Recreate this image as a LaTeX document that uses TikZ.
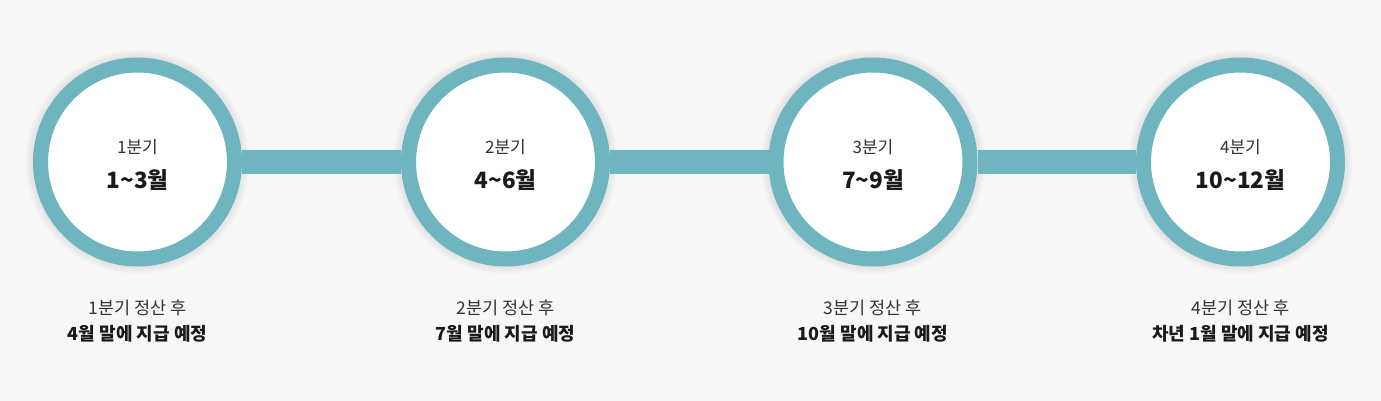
\documentclass[tikz,border=0pt]{standalone}
\usepackage{fontspec}
\setmainfont{Noto Sans CJK KR}
\usetikzlibrary{backgrounds}
\definecolor{qteal}{RGB}{110,181,192}
\definecolor{pagegray}{RGB}{247,247,247}
\definecolor{textgray}{RGB}{51,51,51}
\definecolor{textdark}{RGB}{26,26,26}

\begin{document}
\begin{tikzpicture}[
  x=1pt, y=-1pt,
  quarter/.style={circle, draw=qteal, line width=15pt, fill=white, minimum size=194pt, inner sep=0pt},
  link/.style={qteal, line width=24pt},
  qname/.style={font=\fontsize{17}{20}\selectfont, text=textgray},
  qrange/.style={font=\fontsize{22.5}{26}\selectfont\bfseries, text=textdark},
  note/.style={font=\fontsize{17.5}{20}\selectfont, text=textgray},
  notebold/.style={font=\fontsize{18}{21}\selectfont\bfseries, text=textdark}
]
  \useasboundingbox (0,0) rectangle (1381,401);

  % quarters: circle, name, months and payment note
  \foreach \i/\x/\rng/\pay in {
      1/137.5/1\textasciitilde 3월/4월 말에 지급 예정,
      2/505.5/4\textasciitilde 6월/7월 말에 지급 예정,
      3/873/7\textasciitilde 9월/10월 말에 지급 예정,
      4/1240.5/10\textasciitilde 12월/차년 1월 말에 지급 예정}{
    \node[quarter] (q\i) at (\x,162) {};
    \node[qname] (q\i name) at (\x,147.5) {\i 분기};
    \node[qrange] (q\i range) at (\x,180) {\rng};
    \node[note] (q\i note) at (\x,308) {\i 분기 정산 후};
    \node[notebold] (q\i pay) at (\x,334) {\pay};
  }

  % page, soft shadows and connecting bars
  \begin{scope}[on background layer]
    \fill[pagegray] (0,0) rectangle (1381,401);
    \foreach \i in {1,...,4}
      \foreach \r in {1,...,7}
        \fill[black, opacity=0.011] (q\i) circle[radius=104+\r*1.2pt];
    \draw[link] (q1) -- (q2);
    \draw[link] (q2) -- (q3);
    \draw[link] (q3) -- (q4);
  \end{scope}
\end{tikzpicture}
\end{document}
